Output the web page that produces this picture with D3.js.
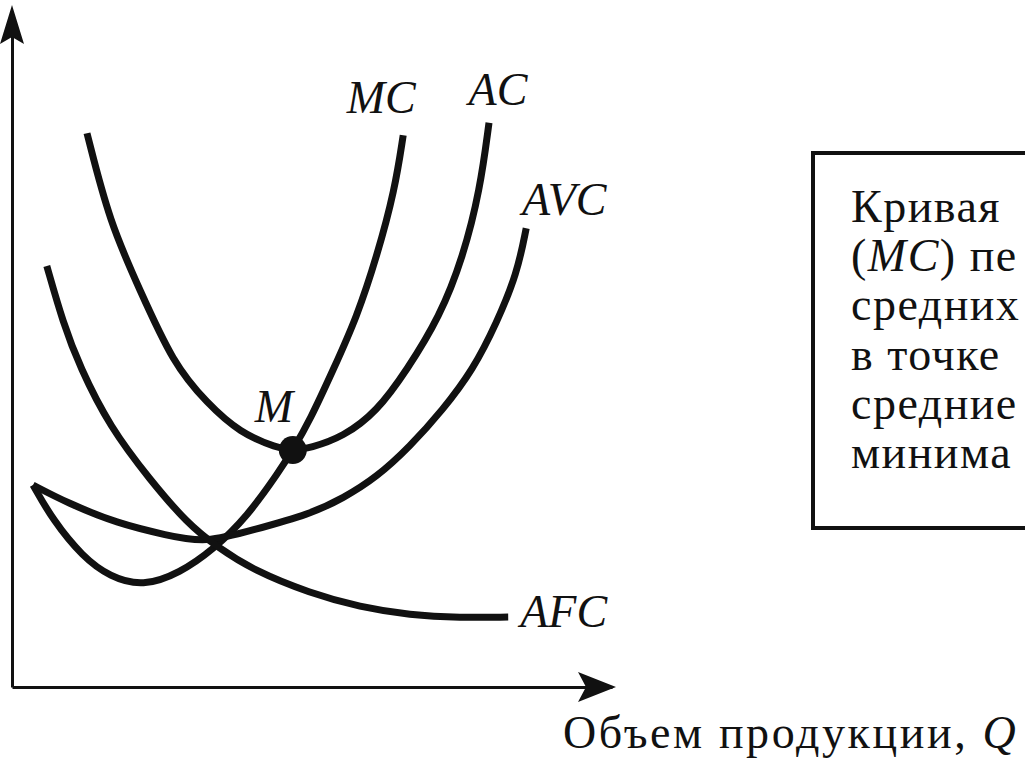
<!DOCTYPE html>
<html>
<head>
<meta charset="utf-8">
<script src="https://cdn.jsdelivr.net/npm/d3@7"></script>
<style>
  html, body { margin: 0; padding: 0; background: #fff; overflow: hidden; }
  svg { display: block; }
</style>
</head>
<body>
<svg id="chart" width="1025" height="760"></svg>
<script>
// ---- data (Q, cost) in abstract units ----
const mcQ  = [3.5, 6.8, 11.8, 16.3, 21.8, 28.0, 33.5, 39.2, 44.7, 46.8, 49.7, 53.5, 57.5, 60.8, 63.8, 65.2];
const mcC  = [30.6, 25.3, 19.7, 16.7, 15.2, 17.3, 20.8, 25.8, 32.9, 35.9, 40.5, 48.0, 56.1, 65.2, 75.3, 83.6];

const acQ  = [12.5, 16.3, 21.3, 26.8, 32.5, 38.0, 44.2, 46.8, 49.7, 55.2, 60.8, 65.8, 71.3, 75.2, 78.0, 79.5];
const acC  = [83.9, 70.3, 60.2, 49.1, 43.0, 38.5, 36.2, 35.9, 36.2, 37.9, 41.7, 48.0, 56.1, 65.2, 75.3, 85.5];

const avcQ = [3.5, 9.2, 17.5, 25.8, 32.2, 40.2, 49.7, 55.2, 60.8, 66.3, 71.8, 76.8, 80.8, 84.2, 85.7];
const avcC = [30.6, 27.9, 24.8, 23.0, 21.8, 23.8, 26.2, 28.6, 31.8, 36.4, 42.0, 48.0, 55.2, 62.7, 69.5];

const afcQ = [5.8, 8.5, 11.3, 16.3, 23.0, 29.2, 34.2, 40.2, 49.7, 58.0, 66.3, 74.7, 82.7];
const afcC = [63.8, 55.2, 48.5, 39.4, 31.4, 24.8, 21.2, 17.7, 14.2, 12.1, 10.9, 10.5, 10.6];

const curveNames = ["MC", "AC", "AVC", "AFC"];
const pointM = { q: 46.8, c: 35.9, label: "M" };

const axisLabel = "Объем продукции, ";
const axisVar = "Q";
const boxLines = [
  [{ t: "Кривая", i: false }],
  [{ t: "(", i: false }, { t: "MC", i: true }, { t: ") пе", i: false }],
  [{ t: "средних", i: false }],
  [{ t: "в точке", i: false }],
  [{ t: "средние", i: false }],
  [{ t: "минима", i: false }]
];

// ---- drawing ----
const FONT = "Liberation Serif, DejaVu Serif, Times New Roman, serif";
const svg = d3.select("#chart");
const x = d3.scaleLinear().domain([0, 100]).range([12, 612]);
const y = d3.scaleLinear().domain([0, 100]).range([687, 27]);

const ink = "#111";

// axes (no ticks)
svg.append("g").attr("transform", `translate(0,${y(0)})`)
  .call(d3.axisBottom(x).tickValues([]).tickSizeOuter(0))
  .call(g => g.select(".domain").attr("stroke", ink).attr("stroke-width", 3));
svg.append("g").attr("transform", `translate(${x(0)},0)`)
  .call(d3.axisLeft(y).tickValues([]).tickSizeOuter(0))
  .call(g => g.select(".domain").attr("stroke", ink).attr("stroke-width", 3));

// arrowheads
const x0 = x(0), y0 = y(0);
svg.append("path")
  .attr("d", `M${x0},${y(100) - 22} L${x0 - 12},${y(100) + 17} L${x0},${y(100) + 10} L${x0 + 12},${y(100) + 17} Z`)
  .attr("fill", ink);
svg.append("path")
  .attr("d", `M${x(100) + 4},${y0} L${x(100) - 34},${y0 - 15} L${x(100) - 26},${y0} L${x(100) - 34},${y0 + 15} Z`)
  .attr("fill", ink);

// curves
const series = [
  { name: "MC", q: mcQ, c: mcC },
  { name: "AC", q: acQ, c: acC },
  { name: "AVC", q: avcQ, c: avcC },
  { name: "AFC", q: afcQ, c: afcC }
];
const line = d3.line()
  .x(d => x(d[0])).y(d => y(d[1]))
  .curve(d3.curveBasis);

svg.append("g").selectAll("path")
  .data(series)
  .join("path")
  .attr("d", s => line(s.q.map((q, i) => [q, s.c[i]])))
  .attr("fill", "none")
  .attr("stroke", ink)
  .attr("stroke-width", 7)
  .attr("stroke-linecap", "butt")
  .attr("stroke-linejoin", "round");

// curve labels placed relative to each curve's end point
const labelOffsets = {
  MC:  { dx: -22, dy: -22, anchor: "middle" },
  AC:  { dx: 9,   dy: -18, anchor: "middle" },
  AVC: { dx: 38,  dy: -13, anchor: "middle" },
  AFC: { dx: 12,  dy: 10,  anchor: "start" }
};
svg.append("g").selectAll("text")
  .data(series)
  .join("text")
  .attr("x", s => x(s.q[s.q.length - 1]) + labelOffsets[s.name].dx)
  .attr("y", s => y(s.c[s.c.length - 1]) + labelOffsets[s.name].dy)
  .attr("text-anchor", s => labelOffsets[s.name].anchor)
  .style("font-family", FONT)
  .attr("font-size", 46)
  .attr("font-style", "italic")
  .attr("fill", ink)
  .text(s => s.name);

// point M
svg.append("circle")
  .attr("cx", x(pointM.q)).attr("cy", y(pointM.c))
  .attr("r", 14).attr("fill", ink);
svg.append("text")
  .attr("x", x(pointM.q) - 19).attr("y", y(pointM.c) - 28)
  .attr("text-anchor", "middle")
  .style("font-family", FONT)
  .attr("font-size", 46).attr("font-style", "italic")
  .attr("fill", ink)
  .text(pointM.label);

// axis label
const al = svg.append("text")
  .attr("x", 563).attr("y", 748)
  .style("font-family", FONT)
  .attr("letter-spacing", 2.6)
  .attr("font-size", 46).attr("fill", ink);
al.append("tspan").text(axisLabel);
al.append("tspan").attr("font-style", "italic").text(axisVar);

// note box (its right side runs past the window edge)
svg.append("rect")
  .attr("x", 813).attr("y", 153)
  .attr("width", 240).attr("height", 375)
  .attr("fill", "none").attr("stroke", ink).attr("stroke-width", 4);

const bt = svg.append("g");
boxLines.forEach((parts, i) => {
  const t = bt.append("text")
    .attr("x", 851).attr("y", 222 + i * 49.2)
    .style("font-family", FONT)
    .attr("letter-spacing", 1.5)
    .attr("font-size", 46).attr("fill", ink);
  parts.forEach(p => t.append("tspan")
    .attr("font-style", p.i ? "italic" : "normal")
    .text(p.t));
});
</script>
</body>
</html>
